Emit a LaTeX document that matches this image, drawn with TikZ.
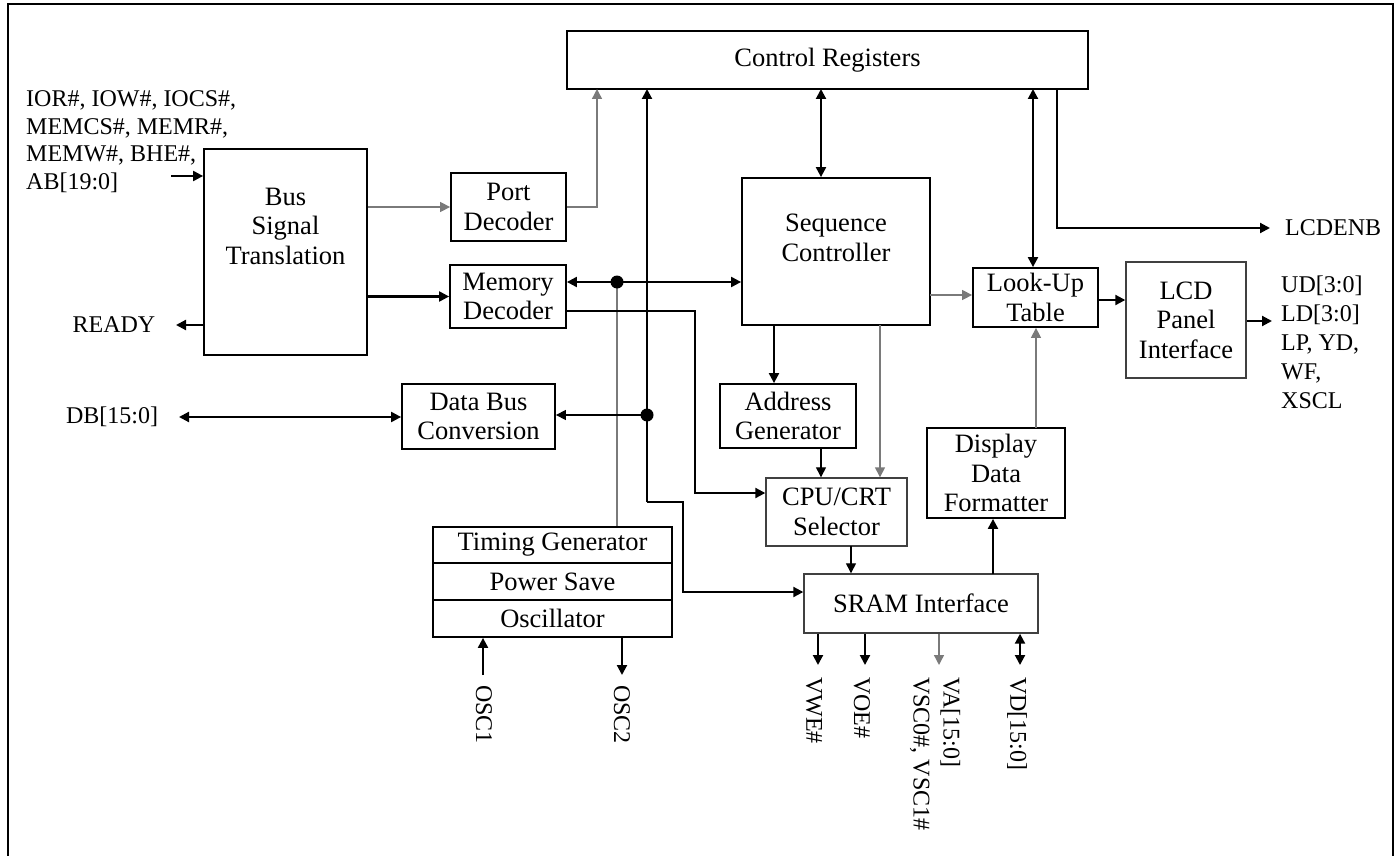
\documentclass[tikz,border=0pt]{standalone}
\usepackage{fontspec}
\setmainfont{Liberation Serif}
\usetikzlibrary{arrows.meta,calc}
\definecolor{wiregray}{HTML}{7A7A7A}
\begin{document}
\begin{tikzpicture}[x=1pt,y=-1pt,
  box/.style={draw=black,line width=1.8pt,inner sep=0pt,align=center,
    font={\fontsize{26.5}{29.5}\selectfont}},
  softbox/.style={box,draw=black!75,line width=1.4pt},
  boxtext/.style={inner sep=0pt,align=center,font={\fontsize{26.5}{29.5}\selectfont}},
  lbl/.style={inner sep=0pt,font={\fontsize{24}{27.6}\selectfont}},
  thk/.style={draw=black,line width=2.1pt},
  thb/.style={draw=black,line width=1.3pt},
  thn/.style={draw=wiregray,line width=1.4pt},
  arr/.style={-{Triangle[length=10pt,width=10pt]}},
  dbl/.style={{Triangle[length=10pt,width=10pt]}-{Triangle[length=10pt,width=10pt]}},
  dotw/.style={fill=black}
]
\useasboundingbox (0,0) rectangle (1400,856);
% outer frame
\draw[line width=2.6pt] (8,862) -- (8,4) -- (1393,4) -- (1393,862);

% blocks
\node[box,minimum width=521pt,minimum height=58pt] (cr) at (827.5,60) {Control Registers};
\node[box,minimum width=163pt,minimum height=206pt] (bst) at (285.5,252) {};
\node[boxtext] (bsttext) at (285.5,226) {Bus\\Signal\\Translation};
\node[box,minimum width=115pt,minimum height=68pt] (pd) at (508.5,207) {Port\\Decoder};
\node[box,minimum width=116pt,minimum height=63pt] (md) at (508,296.5) {Memory\\Decoder};
\node[box,minimum width=153pt,minimum height=65pt] (dbc) at (478.5,416.5) {Data Bus\\Conversion};
\node[box,minimum width=188pt,minimum height=147pt] (sc) at (836,251.5) {};
\node[boxtext] (sctext) at (836,238) {Sequence\\Controller};
\node[box,minimum width=125pt,minimum height=59pt] (lut) at (1035.5,297.5) {Look-Up\\Table};
\node[softbox,minimum width=120pt,minimum height=116pt] (lcd) at (1186,320) {LCD\\Panel\\Interface};
\node[box,minimum width=136pt,minimum height=64pt] (ag) at (788,416) {Address\\Generator};
\node[softbox,minimum width=141pt,minimum height=68pt] (cpu) at (836.5,512) {CPU/CRT\\Selector};
\node[box,minimum width=138pt,minimum height=90pt] (ddf) at (996,473) {Display\\Data\\Formatter};
\node[softbox,minimum width=234pt,minimum height=59pt] (sram) at (921,603.5) {SRAM Interface};
\node[box,minimum width=239pt,minimum height=36pt] (tg) at (552.5,545) {Timing Generator};
\node[box,minimum width=239pt,minimum height=37pt] (ps) at (552.5,581.5) {Power Save};
\node[box,minimum width=239pt,minimum height=37pt] (osc) at (552.5,618.5) {Oscillator};

% external signal labels
\node[lbl,align=left,anchor=west] (inlbl) at (26,141.5)
  {IOR\#, IOW\#, IOCS\#,\\MEMCS\#, MEMR\#,\\MEMW\#, BHE\#,\\AB[19:0]};
\node[lbl] (readylbl) at (114,325) {READY};
\node[lbl] (dblbl) at (112,417) {DB[15:0]};
\node[lbl,anchor=west] (lcdenblbl) at (1285,228) {LCDENB};
\node[lbl,align=left,anchor=west,font={\fontsize{24}{29}\selectfont}] (panellbl) at (1281,342)
  {UD[3:0]\\LD[3:0]\\LP, YD,\\WF,\\XSCL};
\node[lbl,rotate=-90,anchor=west] (vwelbl) at (814,677) {VWE\#};
\node[lbl,rotate=-90,anchor=west] (voelbl) at (862,677) {VOE\#};
\node[lbl,rotate=-90,anchor=west,align=left,font={\fontsize{24}{30}\selectfont}] (valbl) at (935,677) {VA[15:0]\\VSC0\#, VSC1\#};
\node[lbl,rotate=-90,anchor=west] (vdlbl) at (1017,677) {VD[15:0]};
\node[lbl,rotate=-90,anchor=west] (osc1lbl) at (484,685) {OSC1};
\node[lbl,rotate=-90,anchor=west] (osc2lbl) at (622,685) {OSC2};

% connector end points
\coordinate (inA) at (171,176);
\coordinate (rdy) at (176,325);
\coordinate (pdU) at (597,89);
\coordinate (dA) at (617,282);
\coordinate (mdB) at (566,311);
\coordinate (mdR) at (695,493);
\coordinate (busT) at (647,89);
\coordinate (busK) at (647,502);
\coordinate (busJ) at (683,592);
\coordinate (dB) at (647,415);
\coordinate (dbL) at (179,417);
\coordinate (crS) at (821,89);
\coordinate (crL) at (1033,89);
\coordinate (crE) at (1057,89);
\coordinate (lcdenb) at (1270,228);
\coordinate (scL) at (930,295);
\coordinate (lutR) at (1098,300);
\coordinate (lcdO) at (1272,321);
\coordinate (scA) at (774,325);
\coordinate (scC) at (880,325);
\coordinate (agC) at (821,448);
\coordinate (cpuS) at (851,546);
\coordinate (sramD) at (993,574);
\coordinate (ddfL) at (1036,428);
\coordinate (vwe) at (818,665);
\coordinate (voe) at (865,665);
\coordinate (va) at (939,665);
\coordinate (vd) at (1020,665);
\coordinate (o1) at (483,675);
\coordinate (o2) at (622,675);

% bus interface side
\draw[thk,arr] (inA) -- (inA -| bst.west);
\draw[thk,arr] (rdy -| bst.west) -- (rdy);
\draw[thn,arr] (bst.east |- pd.west) -- (pd.west);
\draw[thk,arr] (bst.east |- md.west) -- (md.west);
\draw[thn,arr] (pd.east) -| (pdU);
\draw[thk,dbl] (dbL) -- (dbL -| dbc.west);

% memory decoder / sequence controller link with timing tap
\draw[thn] (dA) -- (dA |- tg.north);
\draw[thk,arr] (dA) -- (dA -| md.east);
\draw[thk,arr] (dA) -- (dA -| sc.west);
\fill[dotw] (dA) circle (6.5);
\draw[thk,arr] (mdB) -| (mdR) -- (mdR -| cpu.west);

% internal data bus
\draw[thk,arr] (busK) -- (busT);
\draw[thk,arr] (busK) -| (busJ) -- (busJ -| sram.west);
\draw[thb,arr] (dB) -- (dB -| dbc.east);
\fill[dotw] (dB) circle (6.5);

% control registers links
\draw[thk,dbl] (crS) -- (crS |- sc.north);
\draw[thk,dbl] (crL) -- (crL |- lut.north);
\draw[thk,arr] (crE) |- (lcdenb);

% display path
\draw[thn,arr] (scL) -- (scL -| lut.west);
\draw[thk,arr] (lutR) -- (lutR -| lcd.west);
\draw[thk,arr] (lcd.east |- lcdO) -- (lcdO);
\draw[thk,arr] (scA) -- (scA |- ag.north);
\draw[thn,arr] (scC) -- (scC |- cpu.north);
\draw[thb,arr] (agC) -- (agC |- cpu.north);
\draw[thb,arr] (cpuS) -- (cpuS |- sram.north);
\draw[thk,arr] (sramD) -- (sramD |- ddf.south);
\draw[thn,arr] (ddfL) -- (ddfL |- lut.south);

% SRAM pins
\draw[thk,arr] (vwe |- sram.south) -- (vwe);
\draw[thk,arr] (voe |- sram.south) -- (voe);
\draw[thn,arr] (va |- sram.south) -- (va);
\draw[thk,dbl] (vd |- sram.south) -- (vd);

% oscillator pins
\draw[thk,arr] (o1) -- (o1 |- osc.south);
\draw[thk,arr] (o2 |- osc.south) -- (o2);
\end{tikzpicture}
\end{document}
